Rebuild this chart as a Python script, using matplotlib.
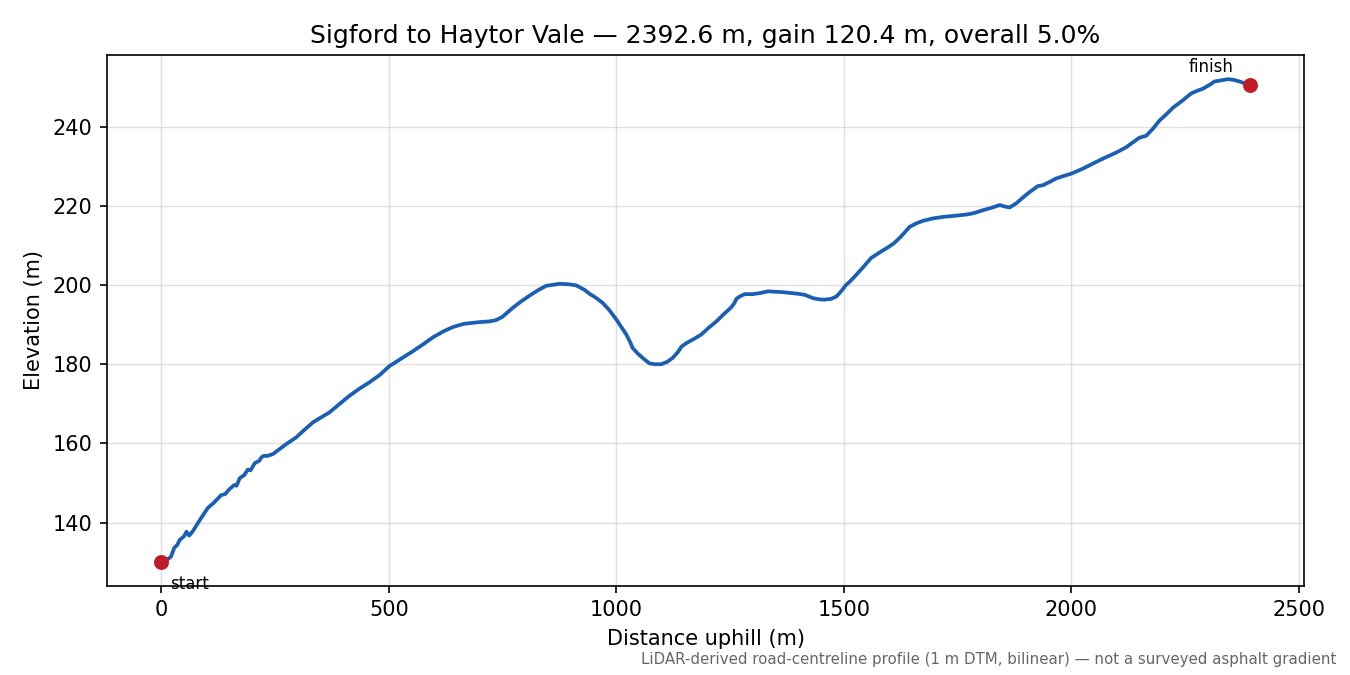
import matplotlib
matplotlib.use("Agg")
import matplotlib.pyplot as plt

distance_m = [0, 10, 21, 28, 35, 40, 50, 55, 61, 70, 84, 102, 115, 131, 140, 150, 160, 165,
              172, 182, 190, 196, 205, 215, 220, 226, 232, 245, 260, 274, 296, 315, 333, 350,
              369, 390, 413, 435, 457, 480, 501, 527, 553, 575, 597, 620, 641, 665, 696, 720,
              735, 750, 772, 790, 809, 828, 846, 875, 895, 912, 930, 941, 955, 970, 985, 1000,
              1012, 1022, 1030, 1036, 1048, 1062, 1073, 1085, 1099, 1112, 1124, 1135, 1143,
              1155, 1168, 1187, 1203, 1220, 1236, 1253, 1260, 1264, 1270, 1282, 1300, 1318,
              1333, 1350, 1366, 1383, 1399, 1415, 1432, 1445, 1458, 1472, 1484, 1495, 1505,
              1513, 1527, 1545, 1560, 1580, 1597, 1610, 1623, 1635, 1645, 1660, 1674, 1695,
              1718, 1745, 1769, 1780, 1790, 1806, 1825, 1843, 1855, 1865, 1879, 1895, 1909,
              1927, 1938, 1952, 1967, 1985, 2000, 2026, 2050, 2077, 2100, 2121, 2138, 2150,
              2165, 2180, 2194, 2210, 2224, 2245, 2264, 2278, 2290, 2305, 2315, 2330, 2345,
              2358, 2370, 2383, 2392.6]
elevation_m = [130.1, 130.4, 131.4, 133.6, 134.4, 135.6, 136.6, 137.7, 136.7, 138.0, 140.6,
               143.7, 145.0, 146.9, 147.2, 148.5, 149.5, 149.3, 151.2, 152.0, 153.4, 153.2,
               155.0, 155.6, 156.5, 156.9, 156.8, 157.3, 158.6, 159.8, 161.5, 163.5, 165.3,
               166.5, 167.8, 169.8, 172.0, 173.8, 175.4, 177.3, 179.5, 181.4, 183.3, 185.0,
               186.8, 188.3, 189.4, 190.2, 190.6, 190.8, 191.1, 192.0, 194.2, 195.8, 197.3,
               198.7, 199.8, 200.3, 200.2, 199.9, 198.8, 197.8, 196.8, 195.5, 193.6, 191.3,
               189.2, 187.5, 185.7, 184.1, 182.6, 181.2, 180.2, 180.0, 180.0, 180.6, 181.6,
               183.0, 184.4, 185.4, 186.2, 187.5, 189.2, 190.8, 192.6, 194.4, 195.5, 196.5,
               197.0, 197.7, 197.7, 198.0, 198.4, 198.3, 198.2, 198.0, 197.8, 197.5, 196.7,
               196.4, 196.3, 196.5, 197.1, 198.5, 200.0, 200.8, 202.5, 204.8, 206.8, 208.3,
               209.5, 210.5, 211.9, 213.4, 214.7, 215.6, 216.2, 216.8, 217.2, 217.5, 217.8,
               218.0, 218.3, 218.9, 219.5, 220.2, 219.8, 219.6, 220.6, 222.2, 223.5, 225.0,
               225.2, 226.0, 226.9, 227.6, 228.1, 229.4, 230.8, 232.3, 233.5, 234.8, 236.2,
               237.2, 237.7, 239.5, 241.5, 243.2, 244.8, 246.6, 248.4, 249.1, 249.6, 250.6,
               251.4, 251.7, 252.0, 251.8, 251.4, 250.9, 250.5]

title = "Sigford to Haytor Vale \u2014 2392.6 m, gain 120.4 m, overall 5.0%"
footnote = "LiDAR-derived road-centreline profile (1 m DTM, bilinear) \u2014 not a surveyed asphalt gradient"

fig, ax = plt.subplots(figsize=(9, 4.5), dpi=150)
fig.subplots_adjust(left=0.0793, right=0.966, top=0.9185, bottom=0.132)

ax.plot(distance_m, elevation_m, color="#1a5fb4", linewidth=1.8, zorder=2)
ax.scatter([distance_m[0], distance_m[-1]], [elevation_m[0], elevation_m[-1]],
           color="#c01c28", s=38, zorder=3)
ax.annotate("start", (distance_m[0], elevation_m[0]), xytext=(4, -15),
            textcoords="offset points", fontsize=8, ha="left", va="bottom")
ax.annotate("finish", (distance_m[-1], elevation_m[-1]), xytext=(-8, 4.5),
            textcoords="offset points", fontsize=8, ha="right", va="bottom")

ax.grid(True, color="#cccccc", alpha=0.6, linewidth=0.7)
ax.set_axisbelow(True)
ax.set_title(title, fontsize=12)
ax.set_xlabel("Distance uphill (m)", fontsize=10)
ax.set_ylabel("Elevation (m)", fontsize=10)
fig.text(0.99, 0.012, footnote, ha="right", va="bottom", fontsize=7.2, color="#666666")

fig.savefig("out.png", dpi=150)
